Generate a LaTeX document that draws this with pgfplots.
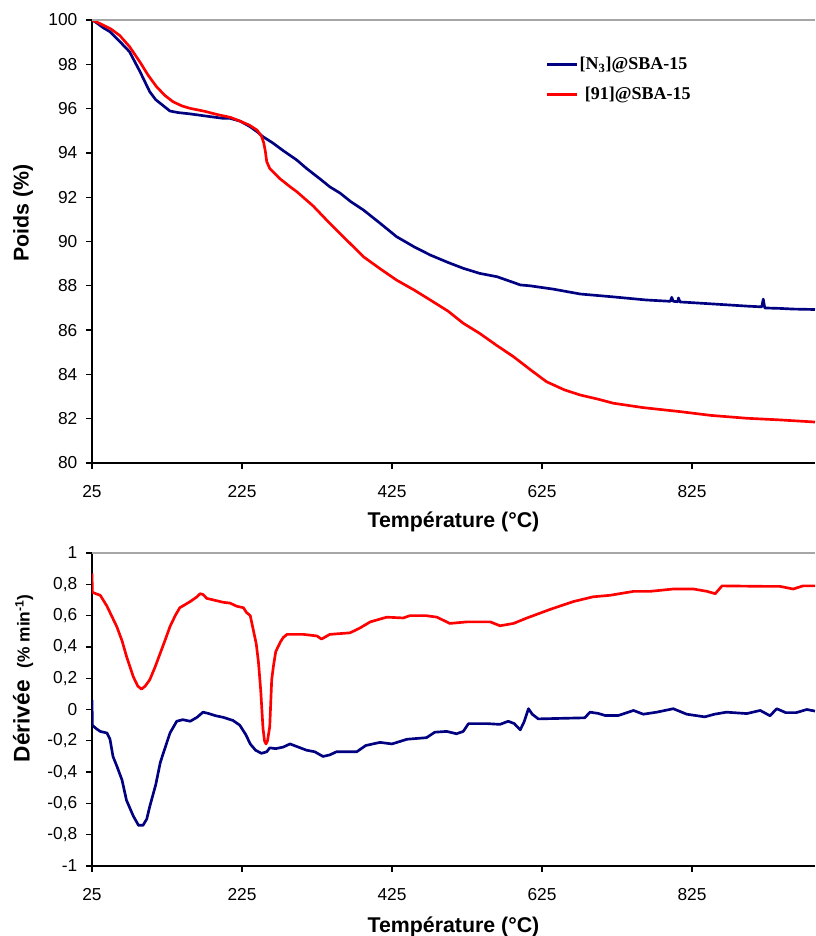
\documentclass[border=0pt]{standalone}
\usepackage{fontspec}
\setmainfont{Liberation Sans}
\newfontfamily\legfont{Liberation Serif}
\usepackage{pgfplots}
\pgfplotsset{compat=1.18}
\definecolor{navyc}{RGB}{0,0,128}
\definecolor{redc}{RGB}{255,0,0}
\pgfplotsset{
 common/.style={
  scale only axis, width=542.25pt, xmin=25, xmax=989,
  axis x line*=bottom, axis y line*=left,
  axis line style={-, black, line width=1.2pt},
  tick align=outside, major tick length=4.5pt,
  tick style={black, line width=1pt},
  xtick={25,225,425,625,825},
  tick label style={font=\fontsize{13}{15}\selectfont},
  xticklabel style={yshift=-9pt},
  yticklabel style={xshift=-3pt},
  /pgf/number format/assume math mode=true,
  xlabel={Température (°C)},
  xlabel style={font=\bfseries\fontsize{16}{19}\selectfont, at={(axis description cs:0.5,0)}, anchor=center, yshift=-44pt},
  after end axis/.code={\draw[gray!70, line width=1pt] (rel axis cs:0,1) -- (rel axis cs:1,1);},
  every axis plot/.append style={line width=2pt, line join=round, no markers},
 }
}
\begin{document}
\begin{tikzpicture}
\useasboundingbox (-69pt,-687pt) rectangle (542.25pt,15pt);
\begin{axis}[common, at={(0,0)}, anchor=north west, height=332.25pt,
  ymin=80, ymax=100, ytick={80,82,...,100},
  ylabel={Poids (\%)},
  ylabel style={font=\bfseries\fontsize{16}{19}\selectfont, at={(axis description cs:-0.0954,0.564)}, anchor=center, rotate=0},
  legend style={at={(0.627,0.919)}, anchor=north west, draw=none, fill=none, inner sep=0pt,
    font=\legfont\bfseries\fontsize{13.5}{16}\selectfont, row sep=9.5pt, nodes={inner sep=1pt}},
  legend cell align=left,
  legend image code/.code={\draw[#1, line width=2pt] (0pt,0pt) -- (22.5pt,0pt);},
]
\addplot[navyc] coordinates {
(25,100) (30,99.9) (40,99.65) (49,99.47) (60,99.1) (75,98.57) (89,97.67) (102,96.76) (110,96.4) (116,96.24) (129,95.89) (140,95.82) (156,95.76) (180,95.65) (200,95.56) (209,95.56) (222,95.44) (235,95.2) (245,94.96) (253,94.73) (266,94.45) (280,94.1) (298,93.68) (311,93.3) (330,92.8) (342,92.47) (356,92.18) (370,91.8) (387,91.42) (410,90.8) (431,90.22) (455,89.75) (476,89.39) (500,89.05) (520,88.79) (542,88.56) (565,88.41) (587,88.15) (596,88.04) (609,88.0) (640,87.85) (676,87.63) (720,87.5) (764,87.36) (796,87.3) (798,87.48) (800,87.3) (806,87.28) (807,87.45) (809,87.27) (820,87.25) (853,87.18) (900,87.08) (918,87.05) (920,87.4) (922,87.0) (942,86.98) (960,86.95) (989,86.93)
};
\addlegendentry{[N\textsubscript{3}]@SBA-15}
\addplot[redc] coordinates {
(25,100) (35,99.85) (50,99.6) (62,99.3) (75,98.8) (89,98.1) (100,97.5) (111,96.99) (122,96.6) (133,96.31) (145,96.12) (156,96.01) (175,95.88) (191,95.74) (210,95.6) (222,95.44) (235,95.25) (245,95.03) (251,94.75) (254,94.45) (256,94.1) (258,93.6) (262,93.3) (275,92.85) (290,92.45) (298,92.25) (320,91.6) (342,90.82) (365,90.05) (387,89.31) (410,88.75) (431,88.26) (455,87.8) (476,87.36) (500,86.85) (520,86.31) (542,85.85) (565,85.3) (587,84.8) (610,84.2) (631,83.67) (655,83.3) (676,83.07) (700,82.88) (720,82.7) (760,82.5) (809,82.32) (850,82.15) (898,82.02) (940,81.95) (989,81.85)
};
\addlegendentry{\hspace{4pt}[91]@SBA-15}
\end{axis}
\begin{axis}[common, at={(0,-399.75pt)}, anchor=north west, height=234.75pt,
  ymin=-1, ymax=1, ytick={-1,-0.8,-0.6,-0.4,-0.2,0,0.2,0.4,0.6,0.8,1},
  /pgf/number format/use comma,
  ylabel={Dérivée\hspace{9pt}{\fontsize{13}{15}\selectfont(\% min\textsuperscript{-1})}},
  ylabel style={font=\bfseries\fontsize{17}{20}\selectfont, at={(axis description cs:-0.0954,0.60)}, anchor=center},
  xlabel style={yshift=-2pt},
]
\addplot[navyc] coordinates {
(25,0.06) (25.5,-0.1) (30,-0.12) (36,-0.14) (45,-0.15) (49,-0.19) (53,-0.3) (58,-0.36) (65,-0.45) (71,-0.58) (80,-0.68) (87,-0.74) (93,-0.74) (98,-0.7) (102,-0.62) (110,-0.48) (116,-0.34) (120,-0.28) (129,-0.15) (138,-0.075) (146,-0.065) (156,-0.075) (165,-0.05) (173,-0.017) (180,-0.025) (190,-0.04) (200,-0.05) (213,-0.07) (222,-0.1) (230,-0.16) (236,-0.22) (243,-0.26) (251,-0.28) (258,-0.27) (262,-0.245) (270,-0.25) (280,-0.24) (289,-0.22) (300,-0.24) (311,-0.26) (322,-0.27) (333,-0.30) (342,-0.29) (351,-0.27) (365,-0.27) (378,-0.27) (390,-0.23) (409,-0.21) (425,-0.22) (445,-0.19) (471,-0.18) (482,-0.145) (498,-0.14) (511,-0.155) (520,-0.14) (527,-0.09) (551,-0.09) (569,-0.095) (580,-0.075) (588,-0.09) (596,-0.13) (601,-0.08) (607,0.005) (612,-0.03) (620,-0.06) (682,-0.053) (689,-0.017) (700,-0.025) (709,-0.038) (727,-0.038) (747,-0.006) (760,-0.03) (778,-0.017) (800,0.005) (818,-0.03) (842,-0.047) (855,-0.03) (871,-0.017) (898,-0.026) (916,-0.006) (929,-0.04) (938,0.005) (950,-0.02) (964,-0.02) (978,0) (989,-0.01)
};
\addplot[redc] coordinates {
(25,0.87) (25.5,0.75) (30,0.74) (36,0.73) (45,0.66) (58,0.53) (65,0.44) (71,0.34) (80,0.21) (86,0.15) (91,0.13) (96,0.15) (102,0.19) (109,0.27) (116,0.36) (123,0.45) (129,0.53) (136,0.6) (142,0.65) (156,0.69) (165,0.72) (169,0.74) (173,0.735) (178,0.71) (187,0.70) (200,0.685) (209,0.68) (218,0.66) (227,0.65) (231,0.62) (236,0.6) (240,0.51) (244,0.42) (247,0.3) (250,0.12) (253,-0.12) (255,-0.2) (257,-0.22) (259,-0.2) (262,-0.11) (264.6,0.19) (267,0.28) (270,0.37) (276,0.43) (280,0.46) (285,0.48) (307,0.48) (325,0.47) (331,0.45) (342,0.48) (369,0.49) (382,0.52) (396,0.56) (418,0.59) (440,0.585) (449,0.60) (470,0.60) (485,0.59) (502,0.55) (525,0.56) (556,0.56) (569,0.535) (587,0.55) (605,0.585) (636,0.64) (667,0.69) (693,0.72) (716,0.73) (747,0.755) (769,0.755) (800,0.77) (827,0.77) (845,0.755) (856,0.74) (865,0.79) (920,0.787) (942,0.787) (960,0.77) (973,0.79) (989,0.79)
};
\end{axis}
\end{tikzpicture}
\end{document}
